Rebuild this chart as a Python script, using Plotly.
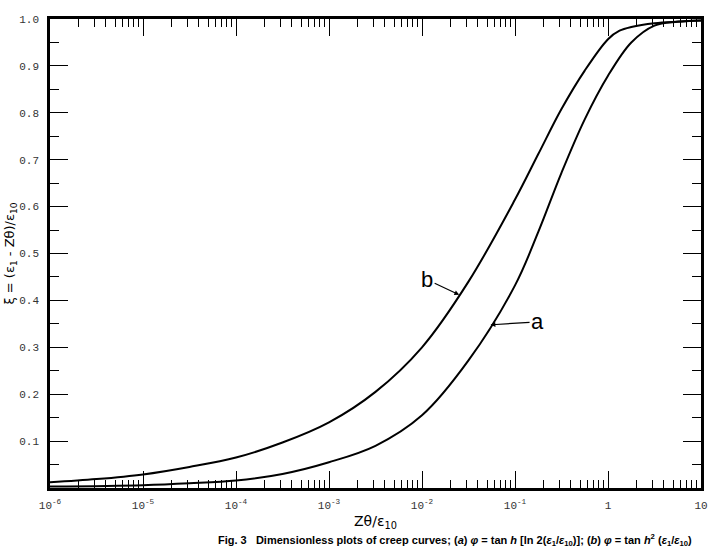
import numpy as np
import plotly.graph_objects as go

# ---- data ----
x_b = [1e-6, 3.16e-6, 1e-5, 3.16e-5, 1e-4, 3.16e-4, 1e-3, 3.16e-3, 1e-2, 3.16e-2,
       0.1, 0.178, 0.316, 0.562, 1.0, 1.33, 1.78, 3.16, 10]
y_b = [0.012, 0.019, 0.029, 0.045, 0.065, 0.097, 0.140, 0.205, 0.300, 0.440,
       0.615, 0.712, 0.808, 0.890, 0.957, 0.975, 0.983, 0.991, 0.997]

x_a = [1e-6, 1e-5, 3.16e-5, 1e-4, 3.16e-4, 1e-3, 3.16e-3, 1e-2, 3.16e-2, 0.1,
       0.178, 0.316, 0.562, 1.0, 1.78, 3.16, 5.62, 10]
y_a = [0.003, 0.006, 0.010, 0.016, 0.030, 0.055, 0.090, 0.155, 0.272, 0.432,
       0.546, 0.672, 0.786, 0.879, 0.950, 0.986, 0.994, 0.997]

x_tickvals = [1e-6, 1e-5, 1e-4, 1e-3, 1e-2, 1e-1, 1, 10]
x_ticktext = ["10<sup>-6</sup>", "10<sup>-5</sup>", "10<sup>-4</sup>", "10<sup>-3</sup>",
              "10<sup>-2</sup>", "10<sup>-1</sup>", "1", "10"]
y_tickvals = [0.1, 0.2, 0.3, 0.4, 0.5, 0.6, 0.7, 0.8, 0.9, 1.0]
y_ticktext = ["0.1", "0.2", "0.3", "0.4", "0.5", "0.6", "0.7", "0.8", "0.9", "1.0"]
y_minor = [0.05, 0.15, 0.25, 0.35, 0.45, 0.55, 0.65, 0.75, 0.85, 0.95]
x_minor = [k * 10.0 ** e for e in range(-6, 1) for k in range(2, 10)]

label_b_at = 2.51e-2
label_a_at = 5.46e-2

fig = go.Figure()
fig.add_trace(go.Scatter(x=x_b, y=y_b, mode="lines",
                         line=dict(color="black", width=2, shape="spline", smoothing=1.0),
                         showlegend=False))
fig.add_trace(go.Scatter(x=x_a, y=y_a, mode="lines",
                         line=dict(color="black", width=2, shape="spline", smoothing=1.0),
                         showlegend=False))

tickfont = dict(family="Liberation Mono, DejaVu Sans Mono, monospace", size=11, color="#333")

fig.update_xaxes(type="log", range=[-6, 1],
                 tickvals=x_tickvals, ticktext=x_ticktext,
                 ticks="inside", ticklen=17, tickwidth=1.2, tickcolor="black",
                 minor=dict(tickvals=x_minor, ticks="inside", ticklen=8,
                            tickwidth=1, tickcolor="black"),
                 showline=True, linecolor="black", linewidth=2.5, mirror="ticks",
                 showgrid=False, zeroline=False, tickfont=tickfont,
                 ticklabelstandoff=5,
                 title=dict(text="Zθ/ε<sub>10</sub>", standoff=6,
                            font=dict(family="DejaVu Sans, Liberation Sans", size=14, color="black")))
fig.update_yaxes(range=[0, 1.0],
                 tickvals=y_tickvals, ticktext=y_ticktext,
                 ticks="inside", ticklen=18, tickwidth=1.2, tickcolor="black",
                 minor=dict(tickvals=y_minor, ticks="inside", ticklen=9,
                            tickwidth=1, tickcolor="black"),
                 showline=True, linecolor="black", linewidth=2.5, mirror="ticks",
                 showgrid=False, zeroline=False, tickfont=tickfont,
                 ticklabelstandoff=6,
                 title=dict(text="ξ = (ε<sub>1</sub> - Zθ)/ε<sub>10</sub>", standoff=2,
                            font=dict(family="DejaVu Sans, Liberation Sans", size=13, color="black")))

yb = float(np.interp(np.log10(label_b_at), np.log10(x_b), y_b))
ya = float(np.interp(np.log10(label_a_at), np.log10(x_a), y_a))
fig.add_annotation(x=np.log10(label_b_at), y=yb, text="b", showarrow=True,
                   ax=-32, ay=-15, arrowhead=2, arrowsize=0.8, arrowwidth=1.2,
                   arrowcolor="black", standoff=0,
                   font=dict(family="Liberation Sans Narrow, Liberation Sans", size=22, color="black"))
fig.add_annotation(x=np.log10(label_a_at), y=ya, text="a", showarrow=True,
                   ax=47, ay=-3, arrowhead=2, arrowsize=0.8, arrowwidth=1.2,
                   arrowcolor="black", standoff=0,
                   font=dict(family="Liberation Sans Narrow, Liberation Sans", size=22, color="black"))

caption = ("<b>Fig. 3   Dimensionless plots of creep curves; (<i>a</i>) <i>φ</i> = tan <i>h</i> "
           "[ln 2(<i>ε</i><sub>1</sub>/<i>ε</i><sub>10</sub>)]; (<i>b</i>) <i>φ</i> = tan "
           "<i>h</i><sup>2</sup> (<i>ε</i><sub>1</sub>/<i>ε</i><sub>10</sub>)</b>")
fig.add_annotation(xref="paper", yref="paper", x=0.622, y=-0.1115, xanchor="center",
                   yanchor="middle", text=caption, showarrow=False,
                   font=dict(family="Liberation Sans, Arial", size=11, color="black"))

fig.update_layout(width=716, height=547,
                  margin=dict(l=49, r=8, t=19, b=59),
                  paper_bgcolor="white", plot_bgcolor="white")

fig.write_html("out.html")
